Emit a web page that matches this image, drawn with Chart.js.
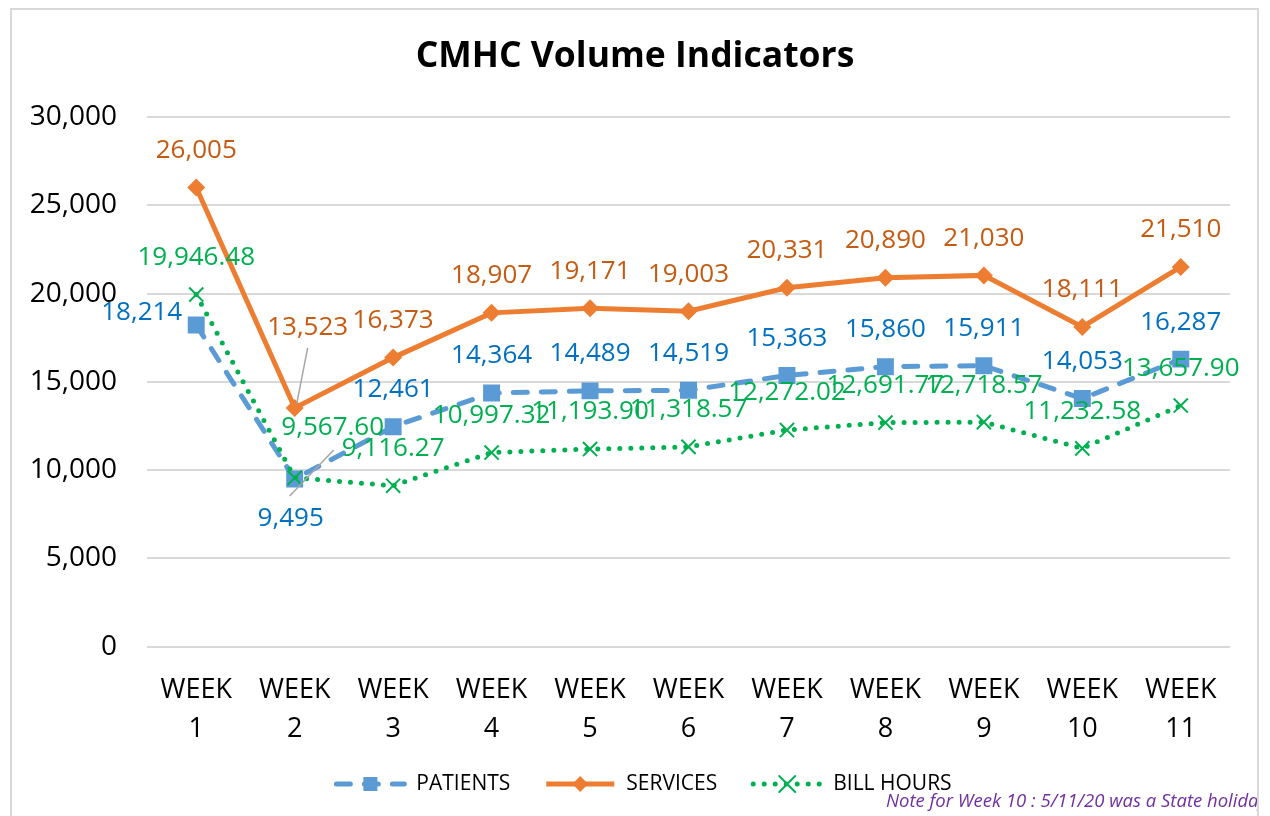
<!DOCTYPE html>
<html>
<head>
<meta charset="utf-8">
<title>CMHC Volume Indicators</title>
<script src="https://cdn.jsdelivr.net/npm/chart.js@4/dist/chart.umd.min.js"></script>
<style>
    html, body { margin: 0; padding: 0; background: #fff; }
    canvas { display: block; }
</style>
</head>
<body>
<canvas id="volumeChart" width="1270" height="816"></canvas>
<script>
const weekLabels = [
    ['WEEK', '1'], ['WEEK', '2'], ['WEEK', '3'], ['WEEK', '4'], ['WEEK', '5'], ['WEEK', '6'],
    ['WEEK', '7'], ['WEEK', '8'], ['WEEK', '9'], ['WEEK', '10'], ['WEEK', '11']
];
const patients = [18214, 9495, 12461, 14364, 14489, 14519, 15363, 15860, 15911, 14053, 16287];
const services = [26005, 13523, 16373, 18907, 19171, 19003, 20331, 20890, 21030, 18111, 21510];
const billHours = [19946.48, 9567.60, 9116.27, 10997.32, 11193.90, 11318.57, 12272.02, 12691.77, 12718.57, 11232.58, 13657.90];
const yMin = 0;
const yMax = 30000;
const yStep = 5000;

const chartTitle = 'CMHC Volume Indicators';
const noteText = 'Note for Week 10 : 5/11/20 was a State holiday';
const FONT = '"Open Sans", "DejaVu Sans", sans-serif';

// label placement tweaks (Excel had a few labels dragged around)
const labelTweaks = {
    0: { 0: { dx: -14, dy: -13, align: 'right' },
         1: { dx: -4, dy: 40, lead: [-5, 17, 39, -29] } },
    1: { 1: { dx: 13, dy: -80, lead: [13, -60, 2, -4] } },
    2: { 1: { dx: 38, dy: -50 } }
};

class VolumeChart {
    constructor() {
        this.canvas = document.getElementById('volumeChart');
        this.chart = null;
    }

    init() {
        this.chart = new Chart(this.canvas, {
            type: 'line',
            data: {
                labels: weekLabels,
                datasets: this.buildDatasets()
            },
            options: this.buildOptions(),
            plugins: [this.framePlugin(), this.labelPlugin(), this.decorPlugin()]
        });
    }

    buildDatasets() {
        return [{
            label: 'PATIENTS',
            data: patients,
            borderColor: '#5B9BD5',
            backgroundColor: '#5B9BD5',
            borderWidth: 5,
            borderDash: [14, 14],
            borderCapStyle: 'round',
            pointStyle: 'rect',
            pointRadius: 12,
            pointBorderWidth: 0,
            labelColor: '#0070C0',
            decimals: 0,
            tension: 0,
            order: 3
        }, {
            label: 'SERVICES',
            data: services,
            borderColor: '#ED7D31',
            backgroundColor: '#ED7D31',
            borderWidth: 5,
            pointStyle: 'rectRot',
            pointRadius: 9,
            pointBorderWidth: 0,
            labelColor: '#C55A11',
            decimals: 0,
            tension: 0,
            order: 2
        }, {
            label: 'BILL HOURS',
            data: billHours,
            borderColor: '#00B050',
            backgroundColor: '#00B050',
            borderWidth: 5,
            borderDash: [0, 11],
            borderCapStyle: 'round',
            pointStyle: 'crossRot',
            pointRadius: 10,
            pointBorderWidth: 2,
            pointBorderColor: '#00B050',
            labelColor: '#00B050',
            decimals: 2,
            tension: 0,
            order: 1
        }];
    }

    buildOptions() {
        return {
            responsive: false,
            animation: false,
            layout: { padding: { left: 10, right: 40, top: 117, bottom: 43 } },
            plugins: {
                legend: { display: false },
                title: { display: false },
                tooltip: { enabled: false }
            },
            scales: {
                x: {
                    offset: true,
                    grid: { display: false, drawTicks: false, offset: true },
                    border: { display: false },
                    ticks: {
                        color: '#000',
                        font: { family: FONT, size: 27, lineHeight: 1.45 },
                        padding: 24,
                        maxRotation: 0,
                        autoSkip: false
                    }
                },
                y: {
                    min: yMin,
                    max: yMax,
                    grid: { color: '#d9d9d9', lineWidth: 2, drawTicks: false },
                    border: { display: false },
                    ticks: {
                        stepSize: yStep,
                        color: '#000',
                        font: { family: FONT, size: 28 },
                        padding: 30,
                        callback: v => v.toLocaleString('en-US')
                    },
                    afterFit: scale => { scale.width = 137; }
                }
            }
        };
    }

    framePlugin() {
        return {
            id: 'frame',
            beforeDraw(chart) {
                const ctx = chart.ctx;
                ctx.save();
                ctx.fillStyle = '#fff';
                ctx.fillRect(0, 0, chart.width, chart.height);
                ctx.strokeStyle = '#d9d9d9';
                ctx.lineWidth = 2;
                ctx.strokeRect(11, 9, 1247, 900);
                ctx.restore();
            }
        };
    }

    labelPlugin() {
        return {
            id: 'pointLabels',
            afterDatasetsDraw(chart) {
                const ctx = chart.ctx;
                ctx.save();
                ctx.font = '26px ' + FONT;
                ctx.textBaseline = 'middle';
                chart.data.datasets.forEach((ds, di) => {
                    const meta = chart.getDatasetMeta(di);
                    meta.data.forEach((pt, i) => {
                        const tweak = (labelTweaks[di] || {})[i] || {};
                        const text = ds.data[i].toLocaleString('en-US', {
                            minimumFractionDigits: ds.decimals,
                            maximumFractionDigits: ds.decimals
                        });
                        if (tweak.lead) {
                            const l = tweak.lead;
                            ctx.strokeStyle = '#a6a6a6';
                            ctx.lineWidth = 1.5;
                            ctx.setLineDash([]);
                            ctx.beginPath();
                            ctx.moveTo(pt.x + l[0], pt.y + l[1]);
                            ctx.lineTo(pt.x + l[2], pt.y + l[3]);
                            ctx.stroke();
                        }
                        ctx.fillStyle = ds.labelColor;
                        ctx.textAlign = tweak.align || 'center';
                        const dx = tweak.dx !== undefined ? tweak.dx : 0;
                        const dy = tweak.dy !== undefined ? tweak.dy : -37;
                        ctx.fillText(text, pt.x + dx, pt.y + dy);
                    });
                });
                ctx.restore();
            }
        };
    }

    decorPlugin() {
        const drawMarker = (ctx, style, x, y, r, color) => {
            ctx.fillStyle = color;
            ctx.strokeStyle = color;
            ctx.setLineDash([]);
            ctx.beginPath();
            if (style === 'rect') {
                ctx.rect(x - r, y - r, 2 * r, 2 * r);
                ctx.fill();
            } else if (style === 'rectRot') {
                ctx.moveTo(x, y - r);
                ctx.lineTo(x + r, y);
                ctx.lineTo(x, y + r);
                ctx.lineTo(x - r, y);
                ctx.closePath();
                ctx.fill();
            } else {
                ctx.lineWidth = 2;
                ctx.moveTo(x - r, y - r);
                ctx.lineTo(x + r, y + r);
                ctx.moveTo(x + r, y - r);
                ctx.lineTo(x - r, y + r);
                ctx.stroke();
            }
        };

        return {
            id: 'decor',
            afterDraw(chart) {
                const ctx = chart.ctx;
                ctx.save();

                // title
                ctx.fillStyle = '#000';
                ctx.font = 'bold 35.5px ' + FONT;
                ctx.textAlign = 'center';
                ctx.textBaseline = 'middle';
                ctx.fillText(chartTitle, 635, 57);

                // legend with line samples
                const sampleLen = 68, textGap = 12, itemGap = 36, legendY = 784;
                ctx.font = '21px ' + FONT;
                const items = chart.data.datasets.map(ds => ({ ds, w: ctx.measureText(ds.label).width }));
                const total = items.reduce((s, it) => s + sampleLen + textGap + it.w, 0) + itemGap * (items.length - 1);
                let x = 644 - total / 2;
                items.forEach(({ ds, w }) => {
                    ctx.strokeStyle = ds.borderColor;
                    ctx.lineWidth = ds.borderWidth;
                    ctx.lineCap = ds.borderCapStyle || 'butt';
                    ctx.setLineDash(ds.borderDash || []);
                    ctx.beginPath();
                    ctx.moveTo(x, legendY);
                    ctx.lineTo(x + sampleLen, legendY);
                    ctx.stroke();
                    const markerR = ds.pointStyle === 'rect' ? 7 : 8;
                    drawMarker(ctx, ds.pointStyle, x + sampleLen / 2, legendY, markerR, ds.borderColor);
                    ctx.fillStyle = '#000';
                    ctx.textAlign = 'left';
                    ctx.textBaseline = 'middle';
                    ctx.fillText(ds.label, x + sampleLen + textGap, legendY);
                    x += sampleLen + textGap + w + itemGap;
                });

                // footnote, clipped by the frame like the original
                ctx.beginPath();
                ctx.rect(0, 0, 1257, chart.height);
                ctx.clip();
                ctx.fillStyle = '#7030A0';
                ctx.font = 'italic 18.5px ' + FONT;
                ctx.textAlign = 'left';
                ctx.textBaseline = 'middle';
                ctx.fillText(noteText, 886, 802);

                ctx.restore();
            }
        };
    }
}

document.addEventListener('DOMContentLoaded', () => {
    const volumeChart = new VolumeChart();
    volumeChart.init();
});
</script>
</body>
</html>
